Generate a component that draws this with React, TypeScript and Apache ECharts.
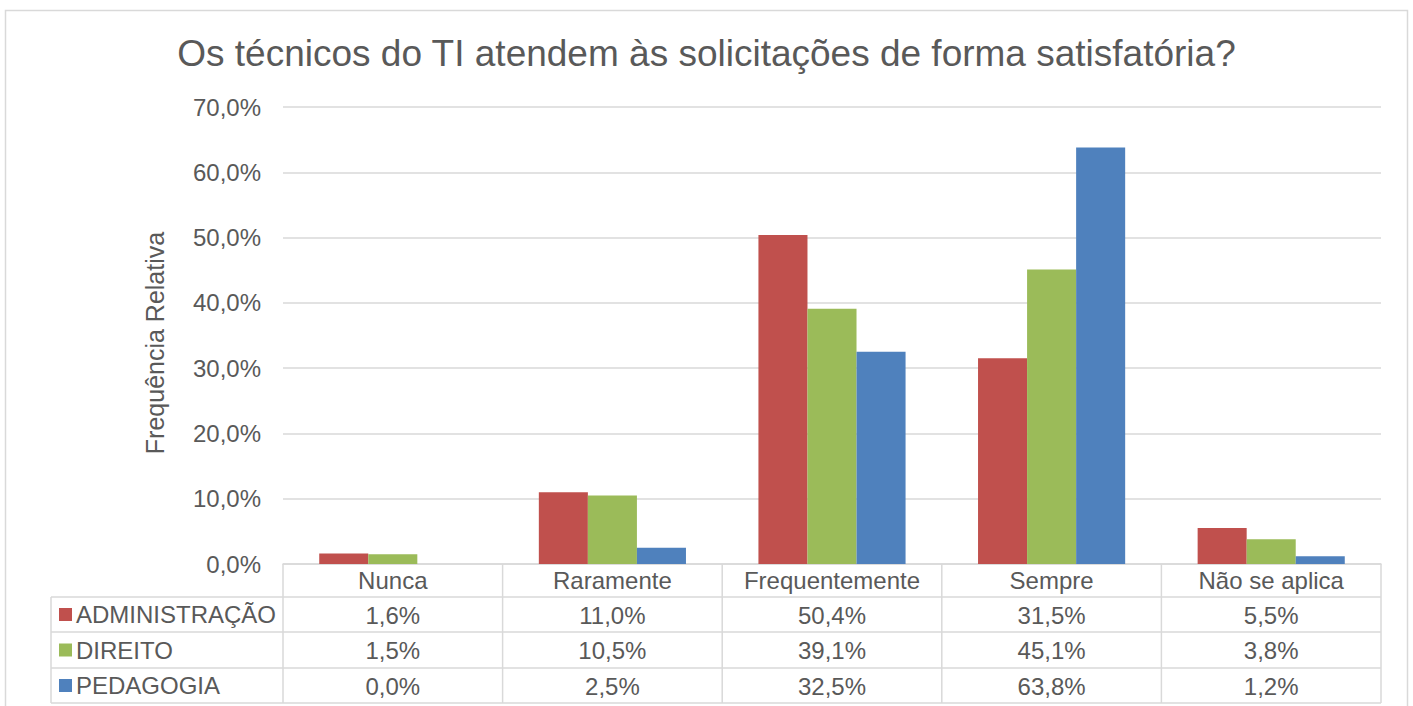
import React, { useEffect, useRef } from "react";
import * as echarts from "echarts";

const titleText = "Os técnicos do TI atendem às solicitações de forma satisfatória?";
const yAxisName = "Frequência Relativa";
const categories = ["Nunca", "Raramente", "Frequentemente", "Sempre", "Não se aplica"];
const seriesNames = ["ADMINISTRAÇÃO", "DIREITO", "PEDAGOGIA"];
const administracao = [1.6, 11.0, 50.4, 31.5, 5.5];
const direito = [1.5, 10.5, 39.1, 45.1, 3.8];
const pedagogia = [0.0, 2.5, 32.5, 63.8, 1.2];
const seriesColors = ["#C0504D", "#9BBB59", "#4F81BD"];
const yMin = 0;
const yMax = 70;
const yInterval = 10;

const FONT = '"Liberation Sans", Arial, sans-serif';
const TEXT = "#595959";
const LINE = "#D9D9D9";
const FS = 24;

const fmt = (v: number) => v.toFixed(1).replace(".", ",") + "%";

export default function App() {
  const ref = useRef<HTMLDivElement>(null);
  useEffect(() => {
    if (!ref.current) return;
    const chart = echarts.init(ref.current, undefined, { renderer: "svg" });
    const allSeries = [administracao, direito, pedagogia];

    // layout
    const gLeft = 283, gRight = 1381, gTop = 107, gBottom = 564;
    const rowTops = [597, 632, 668, 703];
    const tableLeft = 51;
    const colW = (gRight - gLeft) / categories.length;

    const graphics: any[] = [];
    graphics.push({
      type: "rect",
      shape: { x: 5.5, y: 10.5, width: 1402, height: 760 },
      style: { fill: "none", stroke: LINE, lineWidth: 1.5 },
      silent: true,
    });
    rowTops.forEach((y) => {
      graphics.push({
        type: "line",
        shape: { x1: tableLeft, y1: y, x2: gRight, y2: y },
        style: { stroke: LINE, lineWidth: 1.5 },
        silent: true,
      });
    });
    graphics.push({
      type: "line",
      shape: { x1: tableLeft, y1: rowTops[0], x2: tableLeft, y2: rowTops[3] },
      style: { stroke: LINE, lineWidth: 1.5 },
      silent: true,
    });
    for (let i = 0; i <= categories.length; i++) {
      const x = gLeft + i * colW;
      graphics.push({
        type: "line",
        shape: { x1: x, y1: gBottom, x2: x, y2: rowTops[3] },
        style: { stroke: LINE, lineWidth: 1.5 },
        silent: true,
      });
    }
    seriesNames.forEach((name, i) => {
      const cy = (rowTops[i] + rowTops[i + 1]) / 2;
      graphics.push({
        type: "rect",
        shape: { x: 59, y: cy - 6.5, width: 13, height: 13 },
        style: { fill: seriesColors[i] },
        silent: true,
      });
      graphics.push({
        type: "text",
        x: 76,
        y: cy,
        style: {
          text: name,
          fill: TEXT,
          font: `${FS}px ${FONT}`,
          textAlign: "left",
          textVerticalAlign: "middle",
        },
        silent: true,
      });
    });
    graphics.push({
      type: "text",
      x: 155,
      y: 343,
      rotation: Math.PI / 2,
      style: {
        text: yAxisName,
        fill: TEXT,
        font: `25px ${FONT}`,
        textAlign: "center",
        textVerticalAlign: "middle",
      },
      silent: true,
    });

    const rowOffsets = [rowTops[0] - gBottom, rowTops[1] - gBottom, rowTops[2] - gBottom];

    const option: any = {
      animation: false,
      backgroundColor: "#ffffff",
      textStyle: { fontFamily: FONT },
      title: {
        text: titleText,
        left: "center",
        top: 30,
        textStyle: { fontFamily: FONT, fontSize: 37, fontWeight: "normal", color: TEXT },
      },
      grid: { left: gLeft, right: 1413 - gRight, top: gTop, bottom: 706 - gBottom },
      xAxis: [
        {
          type: "category",
          data: categories,
          axisLine: { show: true, lineStyle: { color: LINE, width: 1.5 } },
          axisTick: { show: false },
          axisLabel: {
            fontSize: FS,
            color: TEXT,
            margin: 16,
            verticalAlign: "middle",
            fontFamily: FONT,
            interval: 0,
          },
        },
        ...allSeries.map((vals, i) => ({
          type: "category",
          data: vals.map(fmt),
          position: "bottom",
          offset: rowOffsets[i],
          axisLine: { show: false },
          axisTick: { show: false },
          splitLine: { show: false },
          axisLabel: {
            fontSize: FS,
            color: TEXT,
            margin: 18,
            verticalAlign: "middle",
            fontFamily: FONT,
            interval: 0,
          },
        })),
      ],
      yAxis: {
        type: "value",
        min: yMin,
        max: yMax,
        interval: yInterval,
        axisLine: { show: false },
        axisTick: { show: false },
        splitLine: { lineStyle: { color: LINE, width: 1.5 } },
        axisLabel: {
          fontSize: FS,
          color: TEXT,
          margin: 22,
          fontFamily: FONT,
          formatter: (v: number) => fmt(v),
        },
      },
      series: allSeries.map((vals, i) => ({
        name: seriesNames[i],
        type: "bar",
        data: vals,
        xAxisIndex: 0,
        barGap: "0%",
        barCategoryGap: "33%",
        itemStyle: { color: seriesColors[i] },
      })),
      graphic: graphics,
    };
    chart.setOption(option);
    return () => chart.dispose();
  }, []);
  return (
    <div
      ref={ref}
      style={{ position: "fixed", left: 0, top: 0, width: 1413, height: 706 }}
    />
  );
}
